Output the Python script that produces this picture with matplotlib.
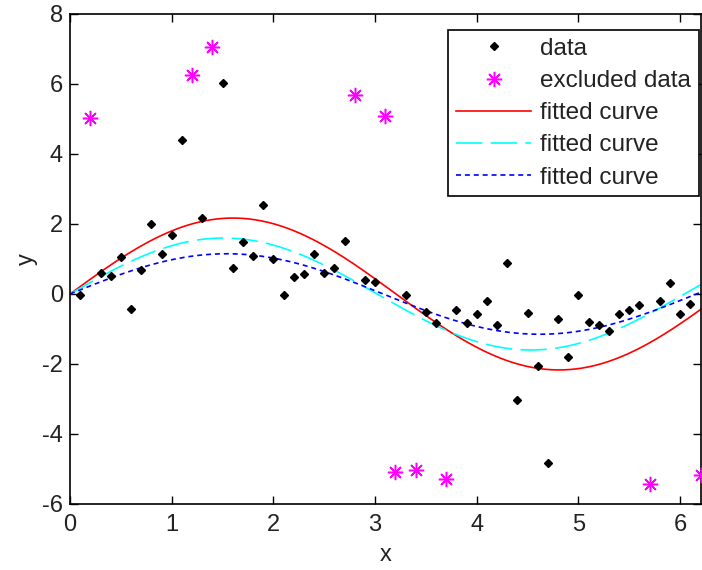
import numpy as np
import matplotlib
matplotlib.use("Agg")
import matplotlib.pyplot as plt

plt.rcParams["font.family"] = ["Liberation Sans", "DejaVu Sans"]
plt.rcParams["lines.scale_dashes"] = False
plt.rcParams["axes.unicode_minus"] = False

# data points kept in the fit
x_data = [0.1, 0.3, 0.4, 0.5, 0.6, 0.7, 0.8, 0.9, 1.0, 1.1, 1.3, 1.5, 1.6, 1.7,
          1.8, 1.9, 2.0, 2.1, 2.2, 2.3, 2.4, 2.5, 2.6, 2.7, 2.9, 3.0, 3.3, 3.5,
          3.6, 3.8, 3.9, 4.0, 4.1, 4.2, 4.3, 4.4, 4.5, 4.6, 4.7, 4.8, 4.9, 5.0,
          5.1, 5.2, 5.3, 5.4, 5.5, 5.6, 5.8, 5.9, 6.0, 6.1]
y_data = [-0.03, 0.61, 0.52, 1.06, -0.42, 0.70, 1.99, 1.13, 1.69, 4.40, 2.16,
          6.02, 0.75, 1.48, 1.09, 2.55, 1.01, -0.03, 0.50, 0.57, 1.13, 0.61,
          0.75, 1.52, 0.40, 0.33, -0.03, -0.51, -0.84, -0.46, -0.84, -0.58,
          -0.20, -0.89, 0.88, -3.02, -0.53, -2.05, -4.84, -0.71, -1.79, -0.03,
          -0.79, -0.89, -1.05, -0.58, -0.46, -0.32, -0.20, 0.31, -0.58, -0.29]

# excluded points
x_excl = [0.2, 1.2, 1.4, 2.8, 3.1, 3.2, 3.4, 3.7, 5.7, 6.2]
y_excl = [5.04, 6.26, 7.06, 5.69, 5.08, -5.09, -5.03, -5.29, -5.44, -5.18]

# fitted model a*sin(b*x) coefficients for the three fits
fit_a = [2.17, 1.60, 1.15]
fit_b = [0.98, 1.04, 1.02]
fit_colors = ["#ff0000", "#00ffff", "#0000ff"]
fit_dashes = [None, (19.0, 6.0), (3.6, 2.8)]

fig = plt.figure(figsize=(7.02, 5.70), dpi=100)
ax = fig.add_axes([70 / 702, 1 - 504 / 570, 630.5 / 702, 490 / 570])

ax.plot(x_data, y_data, linestyle="none", marker="D", markersize=4.2,
        color="black", label="data", zorder=3)
ax.plot(x_excl, y_excl, linestyle="none", marker=(8, 2, 0), markersize=11,
        markeredgewidth=1.1, color="#ff00ff", label="excluded data", zorder=3)

xf = np.linspace(0, 6.2, 300)
for a, b, c, d in zip(fit_a, fit_b, fit_colors, fit_dashes):
    line, = ax.plot(xf, a * np.sin(b * xf), color=c, linewidth=1.2,
                    label="fitted curve")
    if d is not None:
        line.set_dashes(d)

ax.set_xlim(0, 6.2)
ax.set_ylim(-6, 8)
ax.set_xticks(range(0, 7))
ax.set_yticks(range(-6, 9, 2))
ax.tick_params(direction="in", length=6, width=1, top=True, right=True,
               labelsize=17, pad=5, labelcolor="#222222")
ax.tick_params(axis="x", pad=7)
for s in ax.spines.values():
    s.set_linewidth(1.2)
ax.set_xlabel("x", fontsize=17, labelpad=6, color="#222222")
ax.set_ylabel("y", fontsize=17, labelpad=3, color="#222222")

leg = ax.legend(loc="upper right", bbox_to_anchor=(1 - 2 / 630.5, 1 - 16 / 490),
                borderaxespad=0, fontsize=17.5, frameon=True, fancybox=False,
                edgecolor="black", framealpha=1, handlelength=3.1,
                labelspacing=0.42, handletextpad=0.35, borderpad=0.32)
leg.get_frame().set_linewidth(1.2)
for t in leg.get_texts():
    t.set_color("#222222")

fig.savefig("out.png", dpi=100)
